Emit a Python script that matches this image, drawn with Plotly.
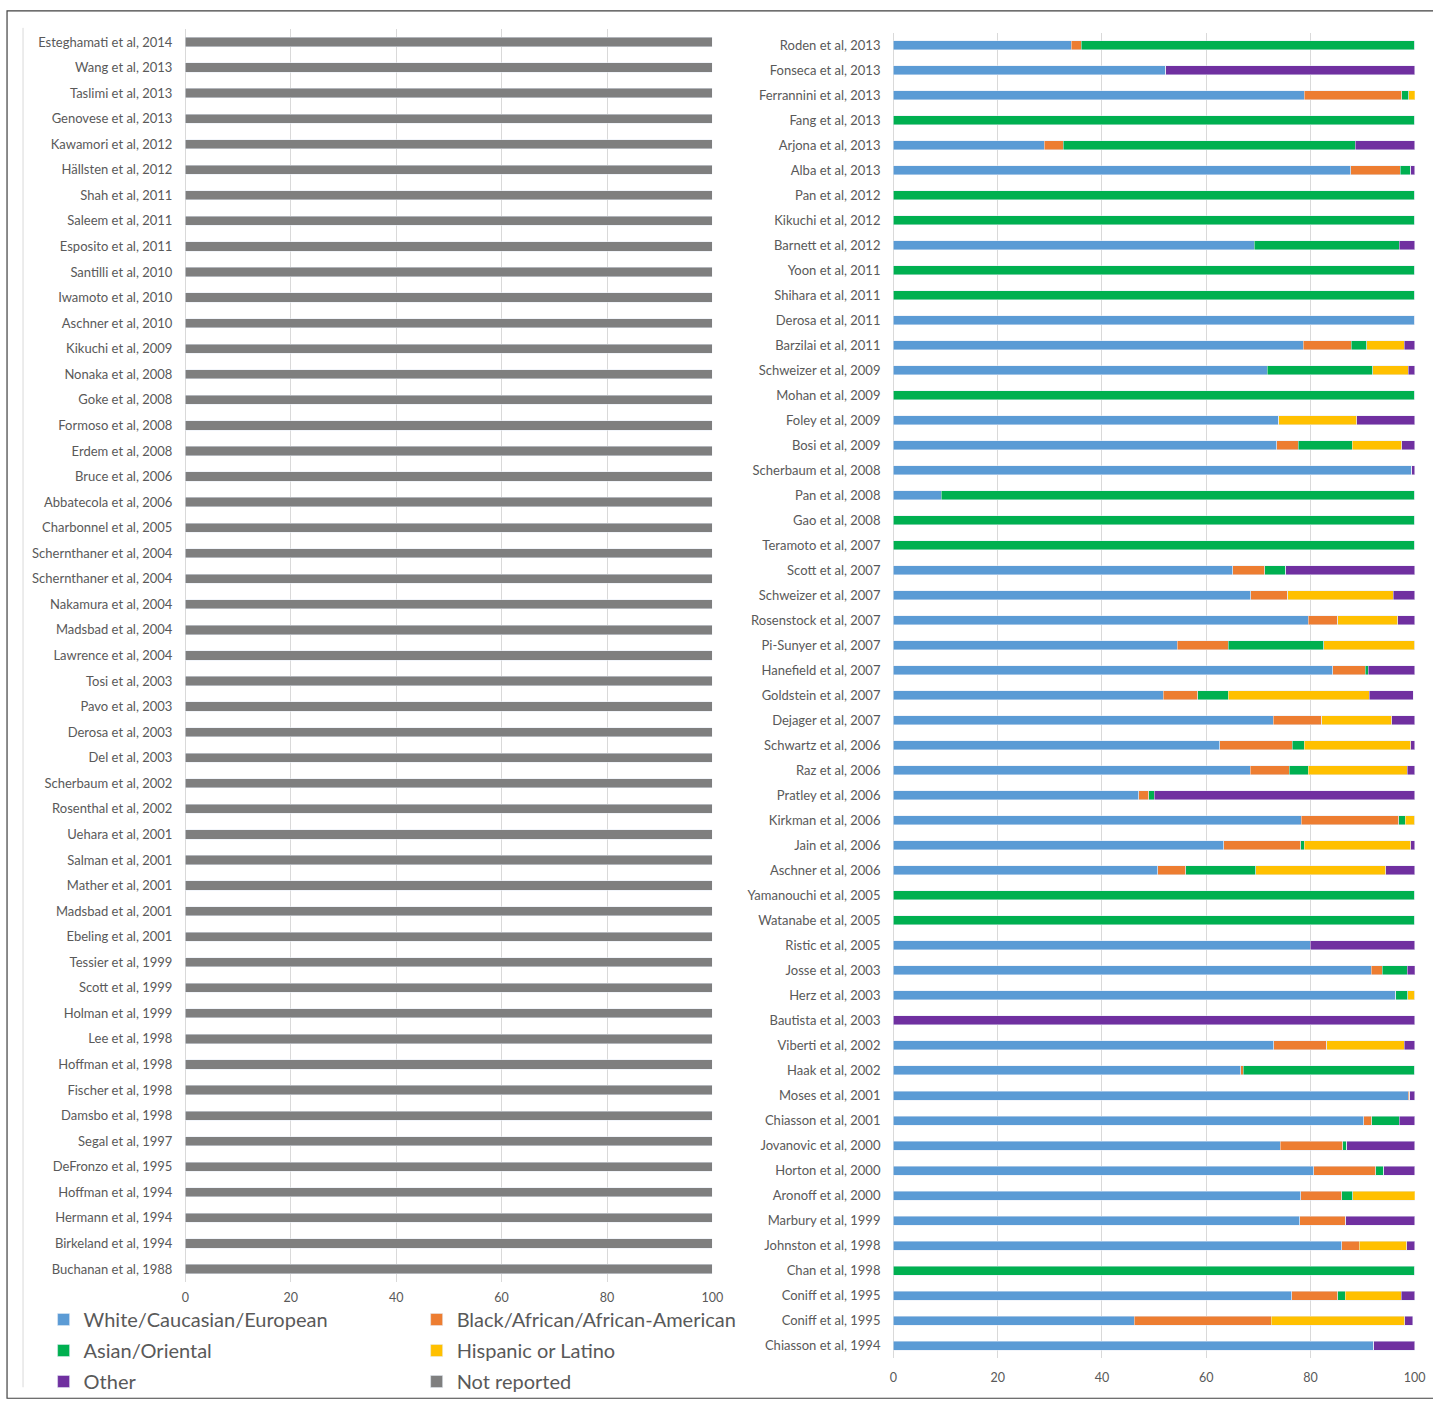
import plotly.graph_objects as go

W, H = 1433, 1401

# ---------------- data ----------------
left_studies = [
    "Esteghamati et al, 2014", "Wang et al, 2013", "Taslimi et al, 2013", "Genovese et al, 2013",
    "Kawamori et al, 2012", "Hällsten et al, 2012", "Shah et al, 2011", "Saleem et al, 2011",
    "Esposito et al, 2011", "Santilli et al, 2010", "Iwamoto et al, 2010", "Aschner et al, 2010",
    "Kikuchi et al, 2009", "Nonaka et al, 2008", "Goke et al, 2008", "Formoso et al, 2008",
    "Erdem et al, 2008", "Bruce et al, 2006", "Abbatecola et al, 2006", "Charbonnel et al, 2005",
    "Schernthaner et al, 2004", "Schernthaner et al, 2004", "Nakamura et al, 2004", "Madsbad et al, 2004",
    "Lawrence et al, 2004", "Tosi et al, 2003", "Pavo et al, 2003", "Derosa et al, 2003",
    "Del et al, 2003", "Scherbaum et al, 2002", "Rosenthal et al, 2002", "Uehara et al, 2001",
    "Salman et al, 2001", "Mather et al, 2001", "Madsbad et al, 2001", "Ebeling et al, 2001",
    "Tessier et al, 1999", "Scott et al, 1999", "Holman et al, 1999", "Lee et al, 1998",
    "Hoffman et al, 1998", "Fischer et al, 1998", "Damsbo et al, 1998", "Segal et al, 1997",
    "DeFronzo et al, 1995", "Hoffman et al, 1994", "Hermann et al, 1994", "Birkeland et al, 1994",
    "Buchanan et al, 1988",
]
left_not_reported = [
    100, 100, 100, 100, 100, 100, 100, 100, 100, 100,
    100, 100, 100, 100, 100, 100, 100, 100, 100, 100,
    100, 100, 100, 100, 100, 100, 100, 100, 100, 100,
    100, 100, 100, 100, 100, 100, 100, 100, 100, 100,
    100, 100, 100, 100, 100, 100, 100, 100, 100,
]

right_studies = [
    "Roden et al, 2013", "Fonseca et al, 2013", "Ferrannini et al, 2013", "Fang et al, 2013",
    "Arjona et al, 2013", "Alba et al, 2013", "Pan et al, 2012", "Kikuchi et al, 2012",
    "Barnett et al, 2012", "Yoon et al, 2011", "Shihara et al, 2011", "Derosa et al, 2011",
    "Barzilai et al, 2011", "Schweizer et al, 2009", "Mohan et al, 2009", "Foley et al, 2009",
    "Bosi et al, 2009", "Scherbaum et al, 2008", "Pan et al, 2008", "Gao et al, 2008",
    "Teramoto et al, 2007", "Scott et al, 2007", "Schweizer et al, 2007", "Rosenstock et al, 2007",
    "Pi-Sunyer et al, 2007", "Hanefield et al, 2007", "Goldstein et al, 2007", "Dejager et al, 2007",
    "Schwartz et al, 2006", "Raz et al, 2006", "Pratley et al, 2006", "Kirkman et al, 2006",
    "Jain et al, 2006", "Aschner et al, 2006", "Yamanouchi et al, 2005", "Watanabe et al, 2005",
    "Ristic et al, 2005", "Josse et al, 2003", "Herz et al, 2003", "Bautista et al, 2003",
    "Viberti et al, 2002", "Haak et al, 2002", "Moses et al, 2001", "Chiasson et al, 2001",
    "Jovanovic et al, 2000", "Horton et al, 2000", "Aronoff et al, 2000", "Marbury et al, 1999",
    "Johnston et al, 1998", "Chan et al, 1998", "Coniff et al, 1995", "Coniff et al, 1995",
    "Chiasson et al, 1994",
]
white = [
    34.1, 52.2, 78.8, 0, 28.9, 87.7, 0, 0, 69.2, 0, 0, 100, 78.6, 71.7, 0, 73.9, 73.5, 99.4, 9.2, 0,
    0, 65.1, 68.5, 79.6, 54.4, 84.3, 51.8, 72.9, 62.6, 68.4, 47.1, 78.2, 63.4, 50.7, 0, 0, 80.0, 91.7,
    96.4, 0, 73.0, 66.6, 98.8, 90.2, 74.2, 80.6, 78.1, 77.9, 86.0, 0, 76.4, 46.2, 92.1,
]
black = [
    1.9, 0, 18.7, 0, 3.7, 9.5, 0, 0, 0, 0, 0, 0, 9.2, 0, 0, 0, 4.2, 0, 0, 0,
    0, 6.1, 7.1, 5.6, 9.8, 6.2, 6.6, 9.3, 13.9, 7.5, 1.9, 18.7, 14.7, 5.4, 0, 0, 0, 2.1,
    0, 0, 10.1, 0.5, 0.2, 1.6, 12.0, 11.9, 7.9, 8.9, 3.4, 0, 8.8, 26.3, 0,
]
asian = [
    64.0, 0, 1.4, 100, 56.0, 2.0, 100, 100, 27.8, 100, 100, 0, 3.0, 20.2, 100, 0, 10.3, 0, 90.8, 100,
    100, 4.1, 0, 0, 18.3, 0.6, 5.8, 0, 2.3, 3.7, 1.0, 1.3, 0.7, 13.4, 100, 100, 0, 4.8,
    2.3, 0, 0, 32.9, 0, 5.2, 0.8, 1.6, 2.1, 0, 0, 100, 1.5, 0, 0,
]
hispanic = [
    0, 0, 1.8, 0, 0, 0, 0, 0, 0, 0, 0, 0, 7.2, 6.9, 0, 15.0, 9.5, 0, 0, 0,
    0, 0, 20.3, 11.5, 17.5, 0, 27.1, 13.4, 20.4, 19.0, 0, 1.8, 20.4, 24.9, 0, 0, 0, 0,
    1.3, 0, 14.9, 0, 0, 0, 0, 0, 12.0, 0, 9.1, 0, 10.7, 25.6, 0,
]
other = [
    0, 47.8, 0, 0, 11.4, 0.8, 0, 0, 3.0, 0, 0, 0, 2.0, 1.2, 0, 11.1, 2.5, 0.6, 0, 0,
    0, 24.7, 4.1, 3.3, 0, 8.9, 8.4, 4.4, 0.8, 1.4, 50.0, 0, 0.8, 5.6, 0, 0, 20.0, 1.9,
    0, 100, 2.0, 0, 1.0, 3.0, 13.0, 5.9, 1.0, 13.2, 1.5, 0, 2.6, 1.5, 7.9,
]

x_ticks = [0, 20, 40, 60, 80, 100]

series = [
    ("White/Caucasian/European", white, "#5B9BD5", "legend"),
    ("Black/African/African-American", black, "#ED7D31", "legend2"),
    ("Asian/Oriental", asian, "#00B050", "legend"),
    ("Hispanic or Latino", hispanic, "#FFC000", "legend2"),
    ("Other", other, "#7030A0", "legend"),
]
NR_COLOR = "#7F7F7F"

TEXT = "#595959"
GRID = "#D9D9D9"
FONT = "Lato"

# mapping from target-picture pixels to layout fractions (small capture-scale correction)
SX, BX = 0.9894, 3.96
SY, BY = 0.9969, -0.9


def px_x(p):
    return (p - BX) / SX / W


def px_y(p):
    return 1 - (p - BY) / SY / H


fig = go.Figure()

left_pos = list(range(len(left_studies)))
right_pos = list(range(len(right_studies)))

fig.add_trace(go.Bar(
    y=left_pos, x=left_not_reported, orientation="h", name="Not reported",
    marker=dict(color=NR_COLOR), width=0.36, xaxis="x", yaxis="y",
    legend="legend2", legendgroup="nr", legendrank=6, cliponaxis=False,
    hoverinfo="skip",
))

for rank, (name, vals, color, leg) in enumerate(series):
    fig.add_trace(go.Bar(
        y=right_pos, x=vals, orientation="h", name=name,
        marker=dict(color=color), width=0.36, xaxis="x2", yaxis="y2",
        legend=leg, legendgroup=name, legendrank=rank + 1, cliponaxis=False,
        hoverinfo="skip",
    ))

axis_common = dict(
    range=[0, 100], tickvals=x_ticks, showgrid=True, gridcolor=GRID, gridwidth=1,
    zeroline=True, zerolinecolor=GRID, zerolinewidth=1, showline=False, ticks="",
    tickfont=dict(family=FONT, size=12.5, color=TEXT), fixedrange=True,
)
yaxis_common = dict(
    showgrid=False, zeroline=False, ticks="", ticklabelstandoff=12,
    tickfont=dict(family=FONT, size=13, color=TEXT), fixedrange=True,
)

fig.update_layout(
    width=W, height=H,
    margin=dict(l=0, r=0, t=0, b=0),
    paper_bgcolor="white", plot_bgcolor="white",
    barmode="stack",
    font=dict(family=FONT, color=TEXT),
    xaxis=dict(domain=[px_x(185.3), px_x(712.3)], anchor="y", ticklabelstandoff=7, **axis_common),
    yaxis=dict(
        domain=[px_y(1282.4), px_y(28.3)], anchor="x",
        range=[len(left_studies) - 0.5, -0.5],
        tickvals=left_pos, ticktext=left_studies, **yaxis_common,
    ),
    xaxis2=dict(domain=[px_x(893.3), px_x(1414.5)], anchor="y2", ticklabelstandoff=10, **axis_common),
    yaxis2=dict(
        domain=[px_y(1358.8), px_y(31.8)], anchor="x2",
        range=[len(right_studies) - 0.5, -0.5],
        tickvals=right_pos, ticktext=right_studies, **yaxis_common,
    ),
    legend=dict(
        x=40 / W, y=1 - 1306 / H, xanchor="left", yanchor="top",
        orientation="v", tracegroupgap=2, bgcolor="rgba(0,0,0,0)",
        font=dict(family=FONT, size=20, color=TEXT),
    ),
    legend2=dict(
        x=417 / W, y=1 - 1306 / H, xanchor="left", yanchor="top",
        orientation="v", tracegroupgap=2, bgcolor="rgba(0,0,0,0)",
        font=dict(family=FONT, size=20, color=TEXT),
    ),
    shapes=[
        dict(type="rect", xref="paper", yref="paper",
             x0=px_x(7), x1=1.05, y0=px_y(1399), y1=px_y(10),
             line=dict(color="#404040", width=1.2), fillcolor="rgba(0,0,0,0)", layer="below"),
        dict(type="line", xref="paper", yref="paper",
             x0=px_x(23), x1=px_x(23), y0=px_y(1388), y1=px_y(27),
             line=dict(color="#D9D9D9", width=1), layer="below"),
    ],
)

fig.write_html(
    "out.html", config={"displayModeBar": False},
    post_script=(
        "document.documentElement.style.margin='0';"
        "document.documentElement.style.overflow='hidden';"
        "document.body.style.margin='0';document.body.style.padding='0';"
        "document.body.style.overflow='hidden';"
    ),
)
